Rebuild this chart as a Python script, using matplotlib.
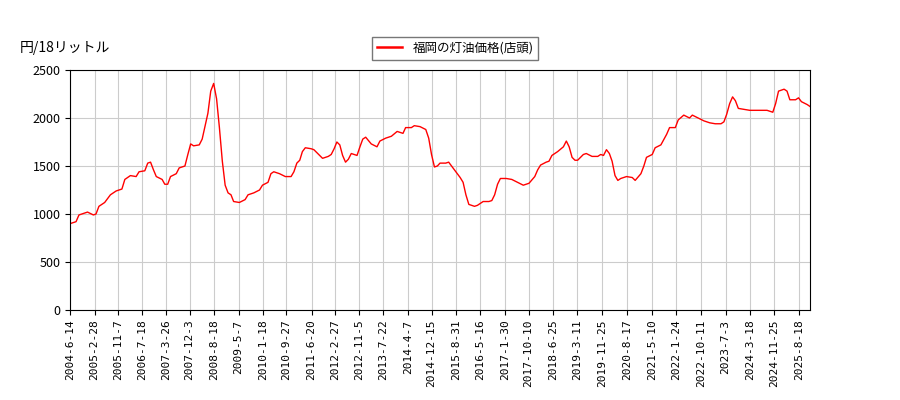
import matplotlib
matplotlib.use('Agg')
import matplotlib.pyplot as plt
import pandas as pd

plt.rcParams['font.family'] = ['Noto Sans CJK JP', 'DejaVu Sans']

# monthly readings of the price line
months = ['2004-06', '2004-08', '2004-09', '2004-12', '2005-02', '2005-03', '2005-04', '2005-06', '2005-08', '2005-10',
          '2005-12', '2006-01', '2006-03', '2006-05', '2006-06', '2006-08', '2006-09', '2006-10', '2006-11', '2006-12',
          '2007-02', '2007-03', '2007-04', '2007-05', '2007-07', '2007-08', '2007-10', '2007-11', '2007-12', '2008-01',
          '2008-03', '2008-04', '2008-06', '2008-07', '2008-08', '2008-09', '2008-10', '2008-11', '2008-12', '2009-01',
          '2009-02', '2009-03', '2009-05', '2009-07', '2009-08', '2009-10', '2009-12', '2010-01', '2010-03', '2010-04',
          '2010-05', '2010-07', '2010-09', '2010-11', '2010-12', '2011-01', '2011-02', '2011-03', '2011-04', '2011-06',
          '2011-07', '2011-09', '2011-10', '2011-12', '2012-01', '2012-02', '2012-03', '2012-04', '2012-05', '2012-06',
          '2012-07', '2012-08', '2012-09', '2012-10', '2012-11', '2012-12', '2013-01', '2013-03', '2013-05', '2013-06',
          '2013-08', '2013-10', '2013-12', '2014-02', '2014-03', '2014-05', '2014-06', '2014-08', '2014-10', '2014-11',
          '2014-12', '2015-01', '2015-02', '2015-03', '2015-05', '2015-06', '2015-08', '2015-10', '2015-11', '2015-12',
          '2016-01', '2016-03', '2016-04', '2016-06', '2016-08', '2016-09', '2016-10', '2016-11', '2016-12', '2017-02',
          '2017-04', '2017-06', '2017-08', '2017-10', '2017-12', '2018-01', '2018-02', '2018-04', '2018-05', '2018-06',
          '2018-08', '2018-10', '2018-11', '2018-12', '2019-01', '2019-02', '2019-03', '2019-05', '2019-06', '2019-08',
          '2019-10', '2019-11', '2019-12', '2020-01', '2020-02', '2020-03', '2020-04', '2020-05', '2020-06', '2020-08',
          '2020-10', '2020-11', '2021-01', '2021-02', '2021-03', '2021-05', '2021-06', '2021-08', '2021-10', '2021-11',
          '2022-01', '2022-02', '2022-04', '2022-06', '2022-07', '2022-09', '2022-11', '2023-01', '2023-03', '2023-05',
          '2023-06', '2023-07', '2023-08', '2023-09', '2023-10', '2023-11', '2024-01', '2024-03', '2024-05', '2024-07',
          '2024-09', '2024-11', '2024-12', '2025-01', '2025-03', '2025-04', '2025-05', '2025-07', '2025-08', '2025-09',
          '2025-11', '2025-12']
prices = [900, 920, 990, 1020, 990, 1000, 1080, 1120, 1200, 1240,
          1260, 1360, 1400, 1390, 1440, 1450, 1530, 1540, 1460, 1390,
          1360, 1310, 1310, 1390, 1420, 1480, 1500, 1620, 1730, 1710,
          1720, 1780, 2050, 2280, 2360, 2200, 1900, 1550, 1300, 1220,
          1200, 1130, 1120, 1150, 1200, 1220, 1250, 1300, 1330, 1420,
          1440, 1420, 1390, 1390, 1440, 1530, 1560, 1650, 1690, 1680,
          1670, 1610, 1580, 1600, 1620, 1680, 1750, 1720, 1610, 1540,
          1570, 1630, 1620, 1610, 1700, 1780, 1800, 1730, 1700, 1760,
          1790, 1810, 1860, 1840, 1900, 1900, 1920, 1910, 1880, 1790,
          1620, 1490, 1500, 1530, 1530, 1540, 1460, 1380, 1330, 1200,
          1100, 1080, 1090, 1130, 1130, 1140, 1200, 1310, 1370, 1370,
          1360, 1330, 1300, 1320, 1390, 1460, 1510, 1540, 1550, 1610,
          1650, 1700, 1760, 1700, 1590, 1560, 1560, 1620, 1630, 1600,
          1600, 1620, 1610, 1670, 1630, 1550, 1400, 1350, 1370, 1390,
          1380, 1350, 1420, 1500, 1590, 1620, 1690, 1720, 1830, 1900,
          1900, 1980, 2030, 2000, 2030, 2000, 1970, 1950, 1940, 1940,
          1960, 2040, 2150, 2220, 2180, 2100, 2090, 2080, 2080, 2080,
          2080, 2060, 2150, 2280, 2300, 2280, 2190, 2190, 2210, 2170,
          2140, 2120]
tick_labels = ['2004-6-14', '2005-2-28', '2005-11-7', '2006-7-18', '2007-3-26', '2007-12-3', '2008-8-18',
               '2009-5-7', '2010-1-18', '2010-9-27', '2011-6-20', '2012-2-27', '2012-11-5', '2013-7-22',
               '2014-4-7', '2014-12-15', '2015-8-31', '2016-5-16', '2017-1-30', '2017-10-10', '2018-6-25',
               '2019-3-11', '2019-11-25', '2020-8-17', '2021-5-10', '2022-1-24', '2022-10-11', '2023-7-3',
               '2024-3-18', '2024-11-25', '2025-8-18']

dates = pd.to_datetime([m + '-15' for m in months])
dates = dates.insert(0, pd.Timestamp('2004-06-14')).delete(1)
tick_dates = pd.to_datetime(tick_labels)

fig = plt.figure(figsize=(9, 4), dpi=100)
ax = fig.add_axes([0.078, 0.225, 0.822, 0.6])
ax.plot(dates, prices, color='red', linewidth=1, label='福岡の灯油価格(店頭)')
ax.set_xlim(dates[0], dates[-1])
ax.set_ylim(0, 2500)
ax.set_yticks(range(0, 2501, 500))
ax.set_xticks(tick_dates)
ax.set_xticklabels(tick_labels, rotation=90, fontsize=8, family='DejaVu Sans Mono')
ax.tick_params(axis='y', labelsize=9)
ax.grid(True, color='#cccccc', linewidth=0.8)
ax.set_axisbelow(True)
fig.text(0.022, 0.87, '円/18リットル', fontsize=10)
leg = fig.legend(loc='center', bbox_to_anchor=(0.506, 0.88), fontsize=9, fancybox=False, edgecolor='#555555')
for h in leg.get_lines():
    h.set_linewidth(1.8)
fig.savefig('out.png')
